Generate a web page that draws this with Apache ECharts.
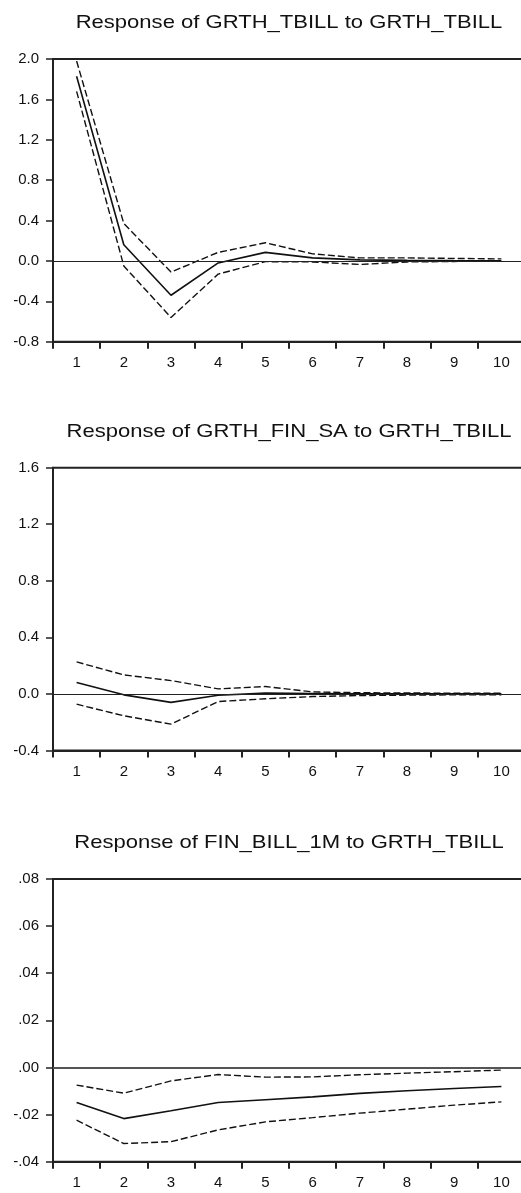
<!DOCTYPE html>
<html>
<head>
<meta charset="utf-8">
<script src="https://cdn.jsdelivr.net/npm/echarts@6/dist/echarts.min.js"></script>
<style>
html,body{margin:0;padding:0;background:#fff;}
#c{width:521px;height:1193px;}
</style>
</head>
<body>
<div id="c"></div>
<script>
var periods = ['1','2','3','4','5','6','7','8','9','10'];

var titles = [
  'Response of GRTH_TBILL to GRTH_TBILL',
  'Response of GRTH_FIN_SA to GRTH_TBILL',
  'Response of FIN_BILL_1M to GRTH_TBILL'
];

// Panel 1
var resp1  = [1.83, 0.16, -0.34, -0.02, 0.085, 0.03, 0.01, 0.005, 0.003, 0.002];
var upper1 = [1.98, 0.37, -0.11, 0.085, 0.18, 0.07, 0.03, 0.03, 0.025, 0.02];
var lower1 = [1.68, -0.05, -0.56, -0.13, -0.007, -0.01, -0.035, -0.01, -0.005, 0.0];

// Panel 2
var resp2  = [0.08, -0.007, -0.06, -0.01, 0.005, 0.003, 0.001, 0.0, 0.0, 0.0];
var upper2 = [0.226, 0.134, 0.094, 0.035, 0.052, 0.014, 0.008, 0.006, 0.005, 0.004];
var lower2 = [-0.073, -0.155, -0.214, -0.054, -0.035, -0.019, -0.012, -0.009, -0.007, -0.006];

// Panel 3
var resp3  = [-0.0149, -0.0217, -0.0184, -0.0149, -0.0137, -0.0125, -0.0110, -0.0099, -0.0089, -0.0081];
var upper3 = [-0.0075, -0.0109, -0.0057, -0.0030, -0.0041, -0.0040, -0.0031, -0.0024, -0.0018, -0.0011];
var lower3 = [-0.0224, -0.0323, -0.0315, -0.0265, -0.0231, -0.0213, -0.0194, -0.0177, -0.0160, -0.0146];

var yMins = [-0.8, -0.4, -0.04];
var yMaxs = [2.0, 1.6, 0.08];
var yIntervals = [0.4, 0.4, 0.02];

var chart = echarts.init(document.getElementById('c'), null, {renderer: 'canvas'});

var FONT = '"Liberation Sans", Arial, sans-serif';
var gridTops = [59, 467.7, 879];
var gridHeight = 282.7;
var titleYs = [23, 432, 843];

function fmt1(v){ return v.toFixed(1); }
function fmt2(v){
  var s = (Math.round(v*100)/100).toFixed(2);
  return s.replace(/^(-?)0\./, '$1.');
}

var grids = [], xAxes = [], yAxes = [], series = [], graphics = [];
var respAll = [resp1, resp2, resp3];
var upAll = [upper1, upper2, upper3];
var loAll = [lower1, lower2, lower3];

for (var i = 0; i < 3; i++) {
  graphics.push({
    type: 'text',
    x: 289, y: titleYs[i],
    scaleX: 1.16,
    silent: true,
    style: {
      text: titles[i],
      font: 'normal 19px ' + FONT,
      fill: '#111',
      textAlign: 'center',
      textVerticalAlign: 'middle'
    }
  });
  grids.push({
    left: 53, top: gridTops[i], width: 472, height: gridHeight,
    outerBoundsMode: 'none',
    containLabel: false,
    show: true, borderColor: '#222', borderWidth: 2, backgroundColor: 'transparent'
  });
  xAxes.push({
    type: 'category', gridIndex: i, data: periods, boundaryGap: true,
    axisLine: {show: true, onZero: false, lineStyle: {color: '#222', width: 2}},
    axisTick: {show: true, length: 7, lineStyle: {color: '#222', width: 2}},
    axisLabel: {fontFamily: FONT, fontSize: 15, color: '#111', margin: 14, hideOverlap: false},
    splitLine: {show: false}
  });
  yAxes.push({
    type: 'value', gridIndex: i, min: yMins[i], max: yMaxs[i], interval: yIntervals[i],
    axisLine: {show: true, onZero: false, lineStyle: {color: '#222', width: 2}},
    axisTick: {show: true, length: 7, lineStyle: {color: '#222', width: 1.5}},
    axisLabel: {fontFamily: FONT, fontSize: 15, color: '#111', margin: 14,
      formatter: (i < 2) ? fmt1 : fmt2},
    splitLine: {show: false}
  });
  series.push({
    type: 'line', xAxisIndex: i, yAxisIndex: i, data: respAll[i],
    symbol: 'none', lineStyle: {color: '#111', width: 1.6, type: 'solid'},
    z: 3,
    markLine: {
      silent: true, symbol: 'none', label: {show: false},
      lineStyle: {color: (i === 2 ? '#555' : '#222'), width: (i === 2 ? 1.8 : 1.2), type: 'solid'},
      data: [{yAxis: 0}]
    }
  });
  series.push({
    type: 'line', xAxisIndex: i, yAxisIndex: i, data: upAll[i],
    symbol: 'none', lineStyle: {color: '#111', width: 1.4, type: [7, 3]}, z: 3
  });
  series.push({
    type: 'line', xAxisIndex: i, yAxisIndex: i, data: loAll[i],
    symbol: 'none', lineStyle: {color: '#111', width: 1.4, type: [7, 3]}, z: 3
  });
}

chart.setOption({
  backgroundColor: '#fff',
  animation: false,
  graphic: graphics,
  grid: grids,
  xAxis: xAxes,
  yAxis: yAxes,
  series: series
});
</script>
</body>
</html>
